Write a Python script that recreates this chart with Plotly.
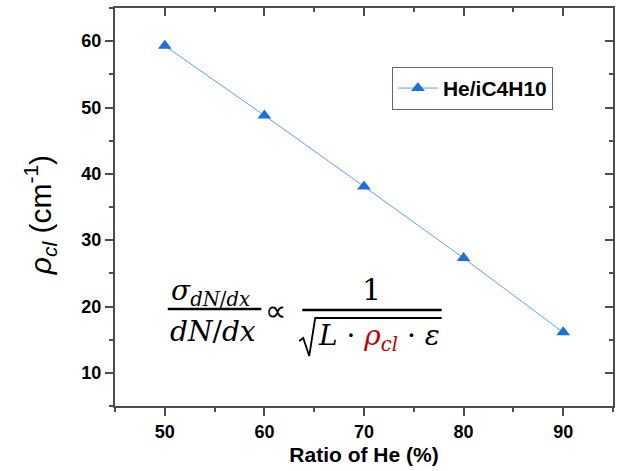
import plotly.graph_objects as go

# ---- data ----
he_ratio = [50, 60, 70, 80, 90]
rho_cl = [59.3, 48.8, 38.1, 27.3, 16.1]
series_name = "He/iC4H10"
x_ticks = [50, 60, 70, 80, 90]
y_ticks = [10, 20, 30, 40, 50, 60]

SANS = "Arial, 'Liberation Sans', sans-serif"
SERIF = "'DejaVu Serif', 'Liberation Serif', serif"
AX = "#4d4d4d"

fig = go.Figure()
fig.add_trace(go.Scatter(
    x=he_ratio, y=rho_cl, name=series_name, mode="lines+markers",
    line=dict(color="#5c9ff0", width=1),
    marker=dict(symbol="triangle-up", size=12, color="#1d6fdc"),
))
# invisible trace to carry mirrored (inside) ticks on top/right
fig.add_trace(go.Scatter(
    x=he_ratio, y=rho_cl, xaxis="x2", yaxis="y2", mode="markers",
    marker=dict(opacity=0), showlegend=False, hoverinfo="skip",
))

common = dict(showgrid=False, zeroline=False, linecolor=AX, linewidth=2,
              tickcolor=AX, tickwidth=2)
fig.update_layout(
    width=617, height=471,
    margin=dict(l=115, r=2, t=8, b=65),
    paper_bgcolor="white", plot_bgcolor="white",
    showlegend=True,
    legend=dict(x=0.556, y=0.852, xanchor="left", yanchor="top",
                bordercolor="#666666", borderwidth=1, bgcolor="white",
                font=dict(family=SANS, size=21, color="black", weight="bold"),
                itemwidth=40, tracegroupgap=0),
    xaxis=dict(range=[45, 95], tickvals=x_ticks, ticks="outside", ticklen=8,
               minor=dict(dtick=5, ticks="outside", ticklen=4, tickcolor=AX, tickwidth=2),
               showline=True, mirror=True,
               tickfont=dict(family=SANS, size=18, color="black", weight="bold"),
               title=dict(text="Ratio of He (%)", standoff=7,
                          font=dict(family=SANS, size=21, color="black", weight="bold")),
               **common),
    yaxis=dict(range=[5, 65], tickvals=y_ticks, ticks="outside", ticklen=8,
               minor=dict(dtick=5, ticks="outside", ticklen=4, tickcolor=AX, tickwidth=2),
               showline=True, mirror=True,
               tickfont=dict(family=SANS, size=18, color="black", weight="bold"),
               **common),
    xaxis2=dict(range=[45, 95], overlaying="x", side="top", tickvals=x_ticks,
                ticks="inside", ticklen=8, showticklabels=False, showline=False,
                minor=dict(dtick=5, ticks="inside", ticklen=4, tickcolor=AX, tickwidth=2),
                showgrid=False, zeroline=False, tickcolor=AX, tickwidth=2),
    yaxis2=dict(range=[5, 65], overlaying="y", side="right", tickvals=y_ticks,
                ticks="inside", ticklen=8, showticklabels=False, showline=False,
                minor=dict(dtick=5, ticks="inside", ticklen=4, tickcolor=AX, tickwidth=2),
                showgrid=False, zeroline=False, tickcolor=AX, tickwidth=2),
)

# y-axis title (rho_cl in italic serif, unit in sans)
ytitle = (f"<span style='font-family:{SERIF};font-size:40px'><i>ρ</i></span>"
          f"<sub><span style='font-family:{SERIF};font-size:28px'><i>cl</i></span></sub>"
          " (cm<sup>-1</sup>)")
fig.add_annotation(xref="paper", yref="paper", x=-0.15, y=0.48, text=ytitle,
                   textangle=-90, showarrow=False, xanchor="center", yanchor="middle",
                   font=dict(family=SANS, size=30, color="black"))

# ---- formula:  sigma_{dN/dx}/(dN/dx)  ∝  1/sqrt(L·rho_cl·eps) ----
def px(xp):
    return (xp - 115) / 500.0

def py(yp):
    return (406 - yp) / 398.0

FS = 28
mfont = dict(family=SERIF, size=FS, color="black")
def ann(x, y, text, **kw):
    fig.add_annotation(xref="paper", yref="paper", x=px(x), y=py(y), text=text,
                       showarrow=False, xanchor="center", yanchor="middle",
                       font=kw.pop("font", mfont), **kw)

ann(211, 292, "<i>σ</i><sub><i>dN</i>/<i>dx</i></sub>")
ann(213, 331, "<i>dN</i>/<i>dx</i>")
ann(276, 310, "∝", font=dict(family=SANS, size=30, color="black"))
ann(373, 289, "1", font=dict(family=SERIF, size=30, color="black"))
ann(380, 337, "<i>L</i> · <span style='color:#c00000'><i>ρ</i><sub><i>cl</i></sub></span> · <i>ε</i>")

line_style = dict(color="black", width=2.5)
fig.add_shape(type="line", xref="paper", yref="paper",
              x0=px(168), x1=px(262), y0=py(309), y1=py(309), line=line_style)
fig.add_shape(type="line", xref="paper", yref="paper",
              x0=px(303), x1=px(443), y0=py(310), y1=py(310), line=line_style)
# radical sign
rad = (f"M {px(300)} {py(341)} L {px(304)} {py(338)} L {px(310)} {py(356)} "
       f"L {px(316)} {py(318)} L {px(443)} {py(318)}")
fig.add_shape(type="path", xref="paper", yref="paper", path=rad,
              line=dict(color="black", width=1.8))

fig.write_html("out.html")
